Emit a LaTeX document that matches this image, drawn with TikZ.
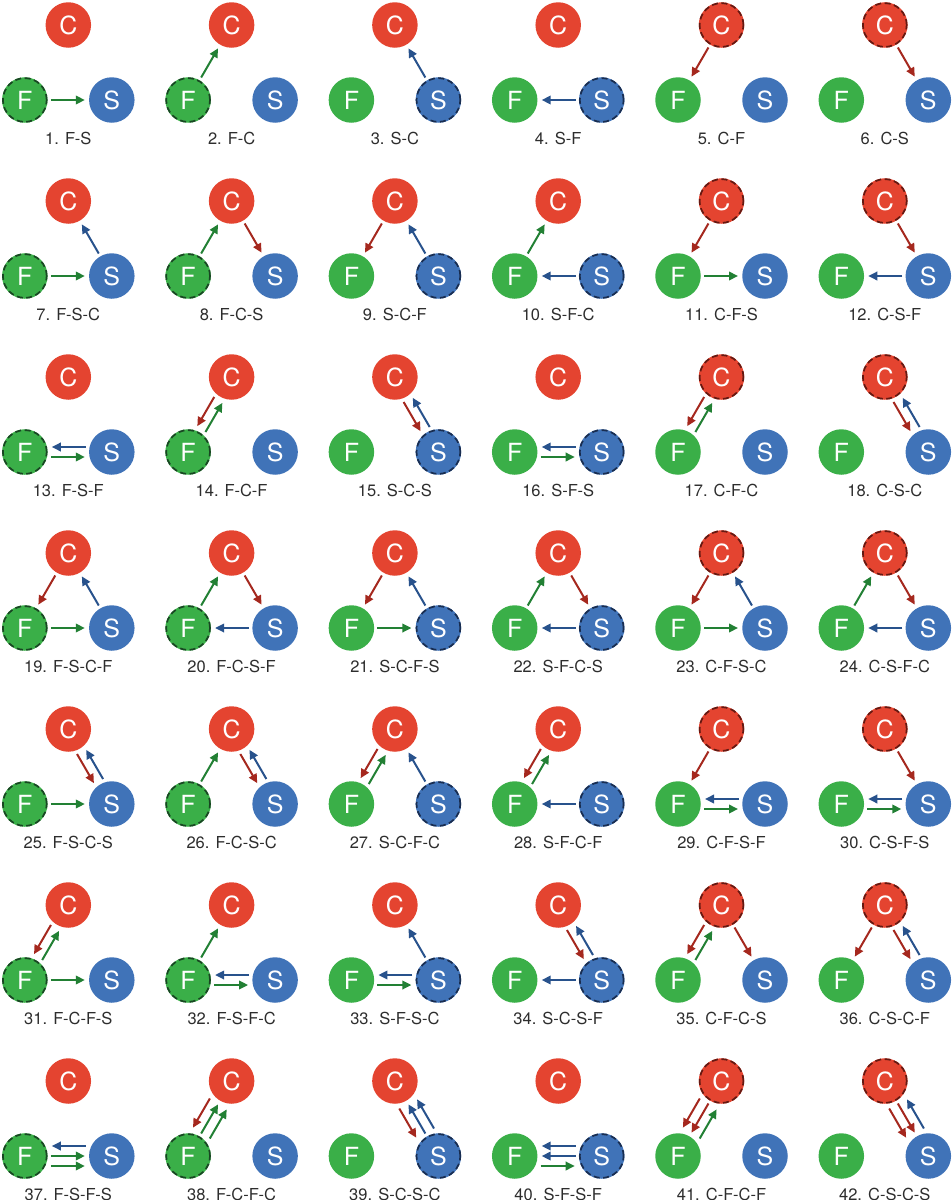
\documentclass[tikz,border=0pt]{standalone}
\usepackage{fontspec}
\setmainfont{TeX Gyre Heros}
\usepackage{color}
\usepackage{tikz}
\usetikzlibrary{calc,arrows.meta}

\definecolor{colF}{RGB}{58,175,72}
\definecolor{colS}{RGB}{64,115,184}
\definecolor{colC}{RGB}{228,68,48}
\definecolor{arF}{RGB}{34,128,52}
\definecolor{arS}{RGB}{40,82,140}
\definecolor{arC}{RGB}{165,40,30}
\definecolor{dkF}{RGB}{25,70,35}
\definecolor{dkS}{RGB}{25,45,80}
\definecolor{dkC}{RGB}{100,25,18}
\definecolor{labgray}{RGB}{45,45,45}

\begin{document}
\begin{tikzpicture}[x=1pt, y=1pt,
  circ/.style={circle, minimum size=45.5pt, inner sep=0pt, text=white, font=\fontsize{25}{25}\selectfont}, % 丸
  ring/.style={dash pattern=on 6pt off 3.5pt, line width=1.7pt}, % 始点の破線
  arr/.style={line width=2pt, -{Triangle[length=9pt,width=8.5pt]}}, % 矢印
  lab/.style={text=labgray, font=\fontsize{16.5}{18}\selectfont}] % 番号
  \useasboundingbox (0,0) rectangle (952,-1200); % 全体の大きさ

  % 番号/ラベル/始点/{矢印: 始点/終点/ずらし}
  \foreach \n/\lab/\st/\arrs in {
    1/F-S/F/{F/S/0}, 2/F-C/F/{F/C/0}, 3/S-C/S/{S/C/0},
    4/S-F/S/{S/F/0}, 5/C-F/C/{C/F/0}, 6/C-S/C/{C/S/0},
    7/F-S-C/F/{F/S/0, S/C/0}, 8/F-C-S/F/{F/C/0, C/S/0},
    9/S-C-F/S/{S/C/0, C/F/0}, 10/S-F-C/S/{S/F/0, F/C/0},
    11/C-F-S/C/{C/F/0, F/S/0}, 12/C-S-F/C/{C/S/0, S/F/0},
    13/F-S-F/F/{F/S/5, S/F/5}, 14/F-C-F/F/{F/C/5, C/F/5},
    15/S-C-S/S/{S/C/5, C/S/5}, 16/S-F-S/S/{S/F/5, F/S/5},
    17/C-F-C/C/{C/F/5, F/C/5}, 18/C-S-C/C/{C/S/5, S/C/5},
    19/F-S-C-F/F/{F/S/0, S/C/0, C/F/0}, 20/F-C-S-F/F/{F/C/0, C/S/0, S/F/0},
    21/S-C-F-S/S/{S/C/0, C/F/0, F/S/0}, 22/S-F-C-S/S/{S/F/0, F/C/0, C/S/0},
    23/C-F-S-C/C/{C/F/0, F/S/0, S/C/0}, 24/C-S-F-C/C/{C/S/0, S/F/0, F/C/0},
    25/F-S-C-S/F/{F/S/0, S/C/5, C/S/5}, 26/F-C-S-C/F/{F/C/0, C/S/5, S/C/5},
    27/S-C-F-C/S/{S/C/0, C/F/5, F/C/5}, 28/S-F-C-F/S/{S/F/0, F/C/5, C/F/5},
    29/C-F-S-F/C/{C/F/0, F/S/5, S/F/5}, 30/C-S-F-S/C/{C/S/0, S/F/5, F/S/5},
    31/F-C-F-S/F/{F/C/5, C/F/5, F/S/0}, 32/F-S-F-C/F/{F/S/5, S/F/5, F/C/0},
    33/S-F-S-C/S/{S/F/5, F/S/5, S/C/0}, 34/S-C-S-F/S/{S/C/5, C/S/5, S/F/0},
    35/C-F-C-S/C/{C/F/5, F/C/5, C/S/0}, 36/C-S-C-F/C/{C/S/5, S/C/5, C/F/0},
    37/F-S-F-S/F/{F/S/0, S/F/10, F/S/10}, 38/F-C-F-C/F/{F/C/0, C/F/10, F/C/10},
    39/S-C-S-C/S/{S/C/0, C/S/10, S/C/10}, 40/S-F-S-F/S/{S/F/0, F/S/10, S/F/10},
    41/C-F-C-F/C/{C/F/0, F/C/10, C/F/10}, 42/C-S-C-S/C/{C/S/0, S/C/10, C/S/10}}{
    \pgfmathtruncatemacro\col{mod(\n-1,6)}
    \pgfmathtruncatemacro\row{div(\n-1,6)}
    \begin{scope}[shift={(68.3+163.3*\col, -25-176*\row)}]
      \node[circ, fill=colC] (C\n) at (0,0) {C};
      \node[circ, fill=colF] (F\n) at (-43.5,-75) {F};
      \node[circ, fill=colS] (S\n) at (43.5,-75) {S};
      \draw[ring, draw=dk\st] (\st\n) circle[radius=21.9pt]; % 始点
      \foreach \src/\dst/\sh in \arrs
        \draw[arr, draw=ar\src] ($(\src\n)!26pt!(\dst\n)!\sh pt!-90:(\dst\n)$) -- ($(\dst\n)!27pt!(\src\n)!\sh pt!90:(\src\n)$);
      \node[lab] (L\n) at (0,-113) {\n. \lab};
    \end{scope}
  }
\end{tikzpicture}
\end{document}
